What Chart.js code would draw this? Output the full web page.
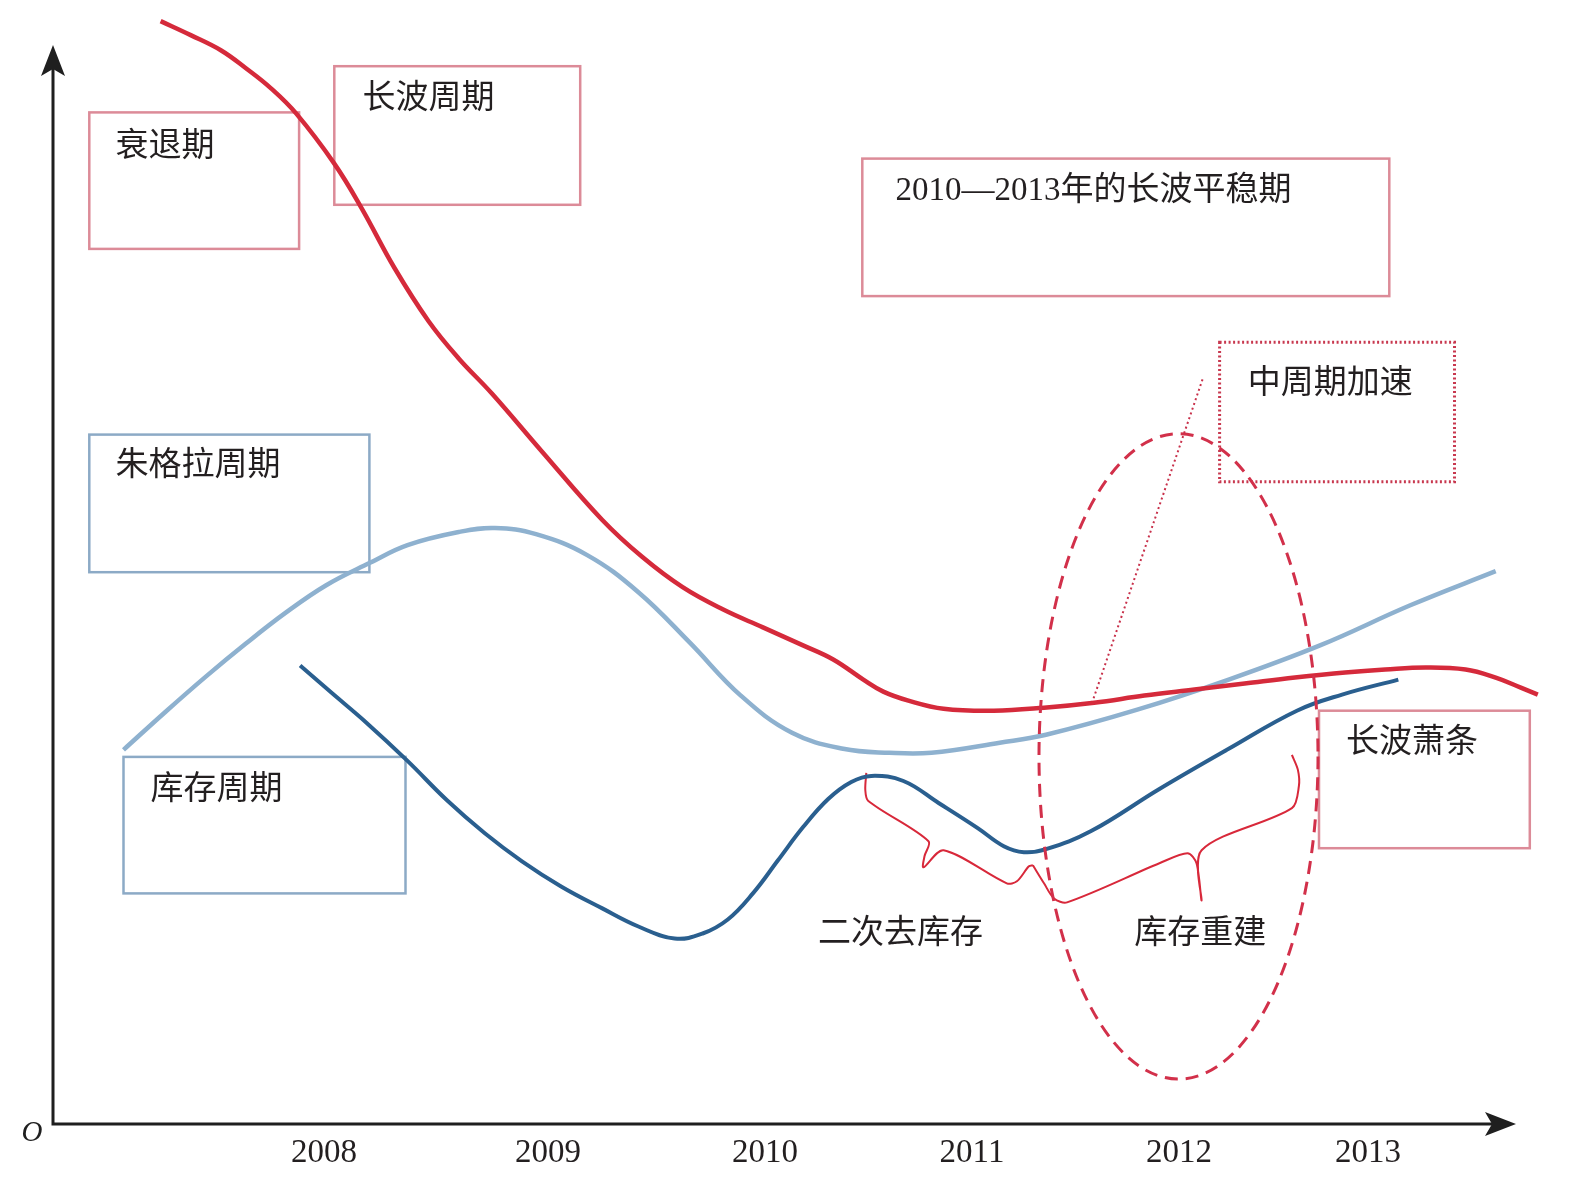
<!DOCTYPE html>
<html>
<head>
<meta charset="utf-8">
<title>长波周期</title>
<script src="https://cdn.jsdelivr.net/npm/chart.js@4.4.1/dist/chart.umd.min.js"></script>
<style>
  body { margin: 0; background: #fff; }
  canvas { display: block; }
</style>
</head>
<body>
<canvas id="myChart" width="1574" height="1186"></canvas>
<script>
// etiquetas del eje x y donde van
const years = ['2008', '2009', '2010', '2011', '2012', '2013'];
const yearAt = [27.1, 49.5, 71.2, 91.9, 112.6, 131.5];

// curvas [x, y]
const longWave = [
    [10.76, 110.29], [13.77, 108.89], [16.78, 107.38], [19.29, 105.58], [21.80, 103.57],
    [24.31, 101.06], [28.13, 96.04], [30.84, 91.62], [34.15, 85.60], [37.56, 80.28],
    [40.57, 76.56], [43.89, 73.05], [48.91, 67.23], [54.93, 60.40], [58.94, 56.69],
    [62.96, 53.68], [66.97, 51.47], [70.99, 49.66], [75.00, 47.86], [78.02, 46.45],
    [81.03, 44.44], [83.03, 43.24], [85.54, 42.34], [89.06, 41.53], [94.08, 41.33],
    [99.10, 41.63], [104.11, 42.13], [109.13, 42.84], [114.15, 43.44], [119.17, 44.04],
    [124.19, 44.64], [129.21, 45.15], [133.22, 45.45], [137.24, 45.65], [141.26, 45.45],
    [144.27, 44.64], [146.78, 43.64], [148.48, 42.94]
];

const juglar = [
    [7.05, 37.42], [11.26, 41.23], [15.28, 44.74], [19.29, 48.05], [23.31, 51.16],
    [27.32, 53.88], [31.64, 56.09], [35.45, 57.89], [40.57, 59.20], [44.19, 59.60],
    [48.30, 58.98], [53.42, 56.89], [58.54, 53.18], [63.66, 48.16], [68.78, 42.84],
    [73.90, 39.12], [79.02, 37.52], [83.64, 37.12], [87.85, 37.12], [94.68, 38.12],
    [99.30, 38.92], [108.43, 41.43], [117.57, 44.44], [126.70, 47.86], [135.73, 51.87],
    [144.27, 55.28]
];

const inventory = [
    [24.71, 45.85], [27.83, 43.14], [31.34, 40.13], [35.45, 36.31], [39.37, 32.40],
    [43.18, 29.08], [46.90, 26.27], [50.81, 23.76], [54.93, 21.56], [58.54, 19.75],
    [62.16, 18.55], [64.97, 19.05], [67.48, 20.45], [69.99, 23.06], [72.50, 26.37],
    [75.01, 29.69], [77.52, 32.50], [79.83, 34.20], [81.83, 34.81], [85.04, 34.30],
    [88.56, 32.10], [92.47, 29.59], [95.08, 27.78], [97.09, 27.18], [99.30, 27.48],
    [103.81, 29.29], [110.64, 33.50], [117.57, 37.52], [124.39, 41.33], [128.91, 42.94],
    [134.53, 44.44]
];

// llaves de "二次去库存" y "库存重建"
const braceDestock = [
    [81.33, 35.11], [81.23, 33.40], [81.53, 32.30], [87.55, 28.28], [87.15, 26.78],
    [87.05, 25.67], [89.06, 27.38], [95.38, 24.07], [96.39, 24.27], [97.59, 25.77],
    [97.99, 25.87]
];
const braceRestock = [
    [97.99, 25.87], [99.10, 24.07], [100.10, 22.56], [101.40, 22.16], [110.64, 26.07],
    [113.45, 27.08], [114.35, 26.07], [114.86, 22.36], [114.86, 27.38], [123.89, 31.59],
    [124.59, 33.80], [124.49, 35.41], [123.89, 36.91]
];

// linea punteada hacia "中周期加速"
const pointer = [[103.9, 42.1], [115.0, 74.6]];

// cajas con texto (en unidades de los ejes)
const PINK = '#dc8b98';
const BLUE = '#8caac6';
const boxes = [
    { text: '衰退期', x1: 3.63, y1: 101.16, x2: 24.61, y2: 87.51, tx: 6.24, ty: 98.05, color: PINK },
    { text: '长波周期', x1: 28.13, y1: 105.78, x2: 52.72, y2: 91.92, tx: 30.94, ty: 102.86, color: PINK },
    { text: '2010—2013年的长波平稳期', x1: 80.93, y1: 96.54, x2: 133.63, y2: 82.79, tx: 84.24, ty: 93.63, color: PINK },
    { text: '中周期加速', x1: 116.66, y1: 78.17, x2: 140.15, y2: 64.22, tx: 119.47, ty: 74.36, color: '#c8384f', dotted: true },
    { text: '朱格拉周期', x1: 3.63, y1: 68.94, x2: 31.64, y2: 55.18, tx: 6.24, ty: 66.13, color: BLUE },
    { text: '库存周期', x1: 7.05, y1: 36.71, x2: 35.25, y2: 23.06, tx: 9.76, ty: 33.80, color: BLUE },
    { text: '长波萧条', x1: 126.60, y1: 41.33, x2: 147.68, y2: 27.58, tx: 129.31, ty: 38.42, color: PINK }
];
const labels = [
    { text: '二次去库存', x: 76.51, y: 19.35 },
    { text: '库存重建', x: 108.13, y: 19.35 }
];

// elipse punteada
const oval = { cx: 112.55, cy: 36.76, rx: 13.95, ry: 32.27 };
const axisTop = 107.9;
const axisEnd = 146.3;

const FONT = "33px 'Liberation Serif', 'Noto Sans CJK SC'";
const TEXT_SHIFT = 4;   // el texto sale un poco alto con baseline middle

const toPoints = (arr) => arr.map(([x, y]) => ({ x: x, y: y }));

// plugin para cajas, textos, elipse y ejes con flecha
const dibujo = {
    id: 'dibujo',
    beforeDatasetsDraw(chart) {
        const { ctx, scales: { x, y } } = chart;
        ctx.save();
        boxes.forEach(b => {
            const left = x.getPixelForValue(b.x1);
            const top = y.getPixelForValue(b.y1);
            const w = x.getPixelForValue(b.x2) - left;
            const h = y.getPixelForValue(b.y2) - top;
            ctx.strokeStyle = b.color;
            ctx.lineWidth = b.dotted ? 3 : 2.5;
            ctx.setLineDash(b.dotted ? [2, 2.5] : []);
            ctx.strokeRect(left, top, w, h);
        });
        ctx.setLineDash([]);
        ctx.fillStyle = '#231f20';
        ctx.font = FONT;
        ctx.textAlign = 'left';
        ctx.textBaseline = 'middle';
        boxes.forEach(b => ctx.fillText(b.text, x.getPixelForValue(b.tx), y.getPixelForValue(b.ty) + TEXT_SHIFT));
        labels.forEach(l => ctx.fillText(l.text, x.getPixelForValue(l.x), y.getPixelForValue(l.y) + TEXT_SHIFT));
        ctx.restore();
    },
    afterDatasetsDraw(chart) {
        const { ctx, scales: { x, y } } = chart;
        ctx.save();

        // elipse
        const cx = x.getPixelForValue(oval.cx);
        const cy = y.getPixelForValue(oval.cy);
        const rx = x.getPixelForValue(oval.cx + oval.rx) - cx;
        const ry = cy - y.getPixelForValue(oval.cy + oval.ry);
        ctx.strokeStyle = '#d2304a';
        ctx.lineWidth = 3;
        ctx.setLineDash([13, 8]);
        ctx.beginPath();
        ctx.ellipse(cx, cy, rx, ry, 0, 0, Math.PI * 2);
        ctx.stroke();
        ctx.setLineDash([]);

        // ejes
        const ox = x.getPixelForValue(0);
        const oy = y.getPixelForValue(0);
        const topY = y.getPixelForValue(axisTop);
        const endX = x.getPixelForValue(axisEnd);
        ctx.strokeStyle = '#1f1f1f';
        ctx.fillStyle = '#1f1f1f';
        ctx.lineWidth = 3;
        ctx.beginPath();
        ctx.moveTo(ox, oy + 1.5);
        ctx.lineTo(ox, topY + 20);
        ctx.moveTo(ox - 1.5, oy);
        ctx.lineTo(endX - 20, oy);
        ctx.stroke();

        ctx.beginPath();
        ctx.moveTo(ox, topY);
        ctx.lineTo(ox + 12, topY + 31);
        ctx.lineTo(ox, topY + 24);
        ctx.lineTo(ox - 12, topY + 31);
        ctx.closePath();
        ctx.fill();

        ctx.beginPath();
        ctx.moveTo(endX, oy);
        ctx.lineTo(endX - 31, oy - 12);
        ctx.lineTo(endX - 24, oy);
        ctx.lineTo(endX - 31, oy + 12);
        ctx.closePath();
        ctx.fill();

        // origen
        ctx.font = "italic 29px 'Liberation Serif'";
        ctx.textAlign = 'center';
        ctx.textBaseline = 'middle';
        ctx.fillText('O', x.getPixelForValue(-2.1), y.getPixelForValue(-0.9));
        ctx.restore();
    }
};

const data = {
    datasets: [
        {
            label: '长波周期',
            data: toPoints(longWave),
            borderColor: '#d52a3b',
            borderWidth: 4.5,
            tension: 0.4
        },
        {
            label: '库存周期',
            data: toPoints(inventory),
            borderColor: '#2a5f8f',
            borderWidth: 4,
            tension: 0.4
        },
        {
            label: '朱格拉周期',
            data: toPoints(juglar),
            borderColor: '#8eb1cf',
            borderWidth: 4.5,
            tension: 0.4
        },
        {
            label: '二次去库存',
            data: toPoints(braceDestock),
            borderColor: '#d8283a',
            borderWidth: 2,
            tension: 0.3
        },
        {
            label: '库存重建',
            data: toPoints(braceRestock),
            borderColor: '#d8283a',
            borderWidth: 2,
            tension: 0.3
        },
        {
            label: '中周期加速',
            data: toPoints(pointer),
            borderColor: '#c8304a',
            borderWidth: 2,
            borderDash: [2, 3],
            tension: 0
        }
    ]
};

const config = {
    type: 'line',
    data: data,
    options: {
        responsive: false,
        animation: false,
        devicePixelRatio: 1,
        events: [],
        layout: { padding: { left: 53, right: 31, top: 14, bottom: 0 } },
        elements: { point: { radius: 0 } },
        plugins: {
            legend: { display: false },
            tooltip: { enabled: false }
        },
        scales: {
            x: {
                type: 'linear',
                min: 0,
                max: 149,
                grid: { display: false },
                border: { display: false },
                afterBuildTicks: (scale) => {
                    scale.ticks = yearAt.map(v => ({ value: v }));
                },
                afterFit: (scale) => {
                    scale.height = 62;
                },
                ticks: {
                    autoSkip: false,
                    maxRotation: 0,
                    padding: 2,
                    color: '#231f20',
                    font: { family: "'Liberation Serif'", size: 33 },
                    callback: (value, index) => years[index]
                }
            },
            y: {
                type: 'linear',
                min: 0,
                max: 111,
                display: false
            }
        }
    },
    plugins: [dibujo]
};

const myChart = new Chart(document.getElementById('myChart'), config);
</script>
</body>
</html>
